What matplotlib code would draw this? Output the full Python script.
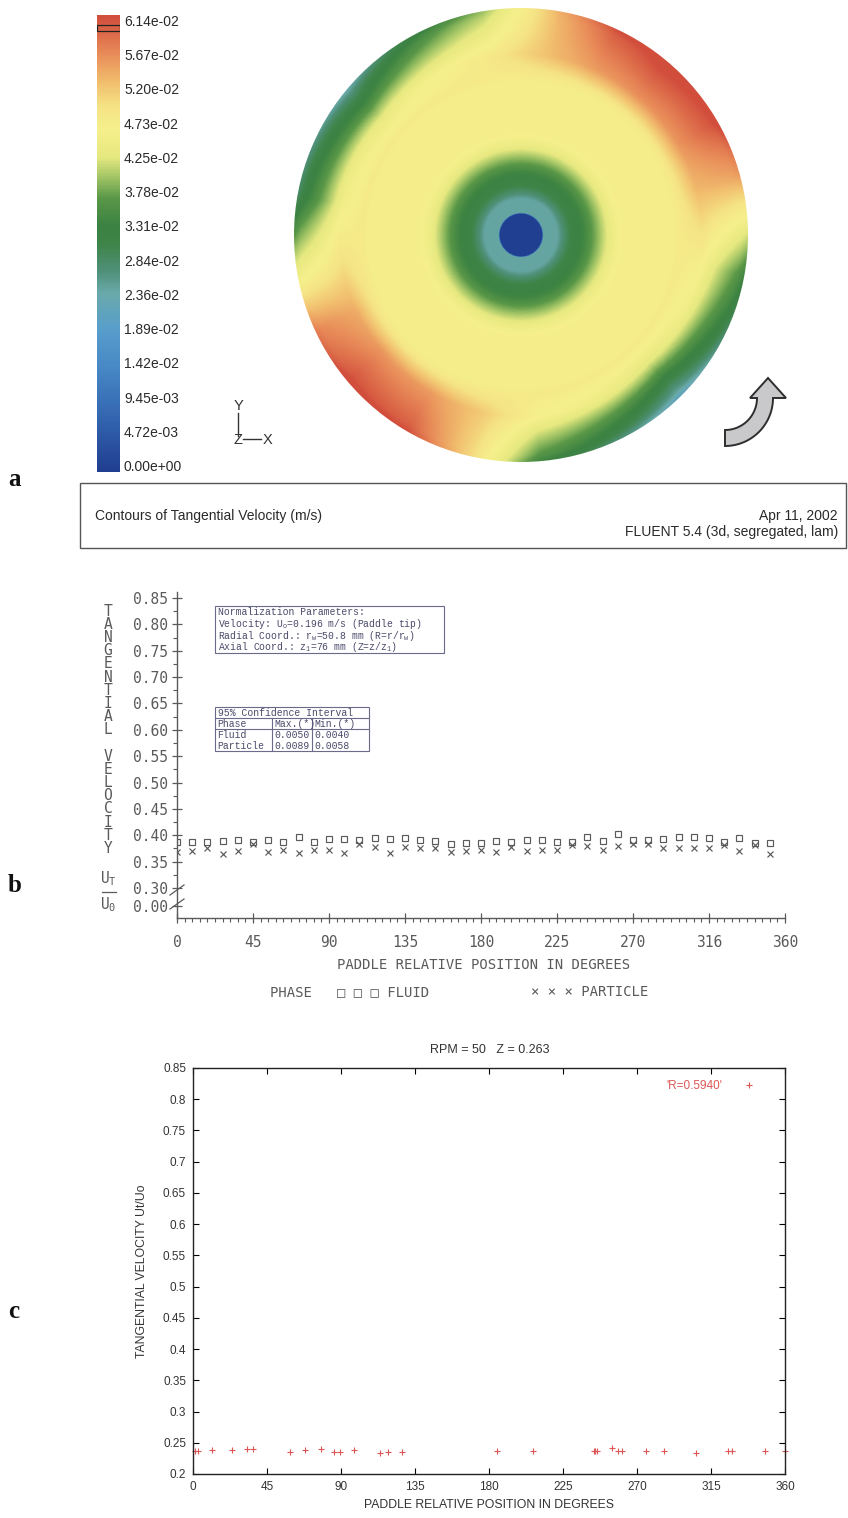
import numpy as np
import matplotlib
matplotlib.use("Agg")
import matplotlib.pyplot as plt
from matplotlib.colors import LinearSegmentedColormap
from matplotlib.patches import Rectangle, Circle, Polygon
from matplotlib.ticker import MultipleLocator, FixedLocator

plt.rcParams['mathtext.default'] = 'regular'

W, H, DPI = 848, 1518, 100

# ---------------- panel a: contour of tangential velocity ----------------
cbar_levels = [6.14e-02, 5.67e-02, 5.20e-02, 4.73e-02, 4.25e-02, 3.78e-02, 3.31e-02,
               2.84e-02, 2.36e-02, 1.89e-02, 1.42e-02, 9.45e-03, 4.72e-03, 0.00e+00]
vmax = 6.14e-02
cmap_pos = [0.00, 0.077, 0.154, 0.23, 0.31, 0.39, 0.44, 0.50, 0.54, 0.60, 0.65, 0.69,
            0.75, 0.80, 0.85, 0.92, 1.00]
cmap_col = ['#213f90', '#2d58a6', '#3a72b8', '#4889c6', '#589ecc', '#6aaaac', '#4f9078',
            '#3f8448', '#3c8242', '#5a9848', '#a8c868', '#e6e880', '#f6f08c', '#f5e486',
            '#f2c270', '#e88a58', '#d24e3c']
# radial profile of the disc (r normalised by tank radius)
core_r = [0.0, 0.094, 0.098, 0.16, 0.18, 0.22, 0.28, 0.34, 0.40, 0.46, 0.68, 0.80, 0.88, 1.0]
core_v = [0.0, 0.0, 0.0245, 0.0245, 0.027, 0.031, 0.034, 0.039, 0.044, 0.047, 0.047, 0.0505,
          0.049, 0.047]
# wall region: angular variation near the rim
rim_r = [0.0, 0.70, 0.88, 0.97, 1.0]
rim_w = [0.0, 0.0, 0.75, 1.1, 1.3]
rim_deg = [0, 15, 30, 50, 65, 80, 100, 140, 170, 190, 205, 220, 240, 258, 275, 315, 350, 360]
rim_amp = [-0.004, 0.006, 0.012, 0.013, 0.011, 0.005, -0.006, -0.018, -0.014, -0.002, 0.008,
           0.012, 0.011, 0.002, -0.010, -0.020, -0.010, -0.004]

# ---------------- panel b: measured (LDV) fluid / particle ----------------
b_angle = [0, 9, 18, 27, 36, 45, 54, 63, 72, 81, 90, 99, 108, 117, 126, 135, 144, 153, 162, 171,
           180, 189, 198, 207, 216, 225, 234, 243, 252, 261, 270, 279, 288, 297, 306, 315, 324,
           333, 342, 351]
b_fluid = [0.387, 0.387, 0.388, 0.390, 0.391, 0.387, 0.391, 0.388, 0.396, 0.387,
           0.392, 0.392, 0.391, 0.394, 0.393, 0.394, 0.391, 0.389, 0.383, 0.385,
           0.385, 0.389, 0.387, 0.391, 0.391, 0.388, 0.388, 0.396, 0.389, 0.402,
           0.391, 0.391, 0.393, 0.396, 0.397, 0.394, 0.388, 0.394, 0.385, 0.385]
b_particle = [0.369, 0.370, 0.375, 0.364, 0.370, 0.383, 0.369, 0.373, 0.367, 0.372,
              0.373, 0.367, 0.383, 0.378, 0.367, 0.378, 0.375, 0.375, 0.369, 0.370,
              0.372, 0.369, 0.378, 0.370, 0.372, 0.372, 0.381, 0.380, 0.373, 0.380,
              0.383, 0.383, 0.376, 0.376, 0.376, 0.376, 0.381, 0.371, 0.381, 0.365]
b_yticks = [0.30, 0.35, 0.40, 0.45, 0.50, 0.55, 0.60, 0.65, 0.70, 0.75, 0.80, 0.85]
b_xticks = [0, 45, 90, 135, 180, 225, 270, 315, 360]
b_xlabels = ['0', '45', '90', '135', '180', '225', '270', '316', '360']
norm_lines = ['Normalization Parameters:',
              'Velocity: U$_o$=0.196 m/s (Paddle tip)',
              'Radial Coord.: r$_w$=50.8 mm (R=r/r$_w$)',
              'Axial Coord.: z$_1$=76 mm (Z=z/z$_1$)']
ci_title = '95% Confidence Interval'
ci_rows = [['Phase', 'Max.(*)', 'Min.(*)'],
           ['Fluid', '0.0050', '0.0040'],
           ['Particle', '0.0089', '0.0058']]

# ---------------- panel c: CFD prediction ----------------
c_angle = [1.5, 3.0, 11.8, 23.6, 32.6, 36.6, 59.2, 68.4, 77.9, 85.6, 89.1, 98.2, 113.5,
           118.6, 126.8, 184.9, 207.0, 243.8, 244.6, 245.4, 254.7, 258.5, 261.0, 275.7,
           286.5, 305.6, 325.5, 328.0, 348.1, 360.0]
c_vel = [0.2370, 0.2365, 0.2378, 0.2389, 0.2394, 0.2394, 0.2360, 0.2378, 0.2394, 0.2350,
         0.2360, 0.2378, 0.2339, 0.2350, 0.2350, 0.2376, 0.2376, 0.2362, 0.2370, 0.2366,
         0.2409, 0.2376, 0.2374, 0.2366, 0.2376, 0.2339, 0.2376, 0.2374, 0.2366, 0.2376]
c_yticks = [0.2, 0.25, 0.3, 0.35, 0.4, 0.45, 0.5, 0.55, 0.6, 0.65, 0.7, 0.75, 0.8, 0.85]
c_xticks = [0, 45, 90, 135, 180, 225, 270, 315, 360]

# -------------------------------------------------------------------------
fig = plt.figure(figsize=(W / DPI, H / DPI), dpi=DPI)
fig.patch.set_facecolor('white')


def px_axes(x0, y0, x1, y1):
    return fig.add_axes([x0 / W, 1 - y1 / H, (x1 - x0) / W, (y1 - y0) / H])


SANS = 'Liberation Sans'
MONO = ['DejaVu Sans Mono', 'DejaVu Sans']
PLOT_GREY = '#5a5a5a'

cmap = LinearSegmentedColormap.from_list('fluent', list(zip(cmap_pos, cmap_col)))

# colour bar
ax_cb = px_axes(97, 15, 120, 472)
grad = np.linspace(0, vmax, 400).reshape(-1, 1)
ax_cb.imshow(grad, cmap=cmap, vmin=0, vmax=vmax, origin='lower', aspect='auto',
             extent=[0, 1, 0, vmax])
ax_cb.add_patch(Rectangle((0.0, 0.0593), 1.0, 0.0007, fill=False, ec='#222222', lw=0.9))
ax_cb.set_xlim(0, 1)
ax_cb.set_ylim(0, vmax)
ax_cb.set_axis_off()

# disc
ax_d = px_axes(294, 8, 748, 462)
g = np.linspace(-1, 1, 600)
X, Y = np.meshgrid(g, g)
R = np.hypot(X, Y)
PHI = np.degrees(np.arctan2(Y, X)) % 360
V = (np.interp(R, core_r, core_v)
     + np.interp(R, rim_r, rim_w) * np.interp(PHI, rim_deg, rim_amp))
V = np.clip(V, 0, vmax)
im = ax_d.imshow(V, cmap=cmap, vmin=0, vmax=vmax, origin='lower', extent=[-1, 1, -1, 1],
                 interpolation='bilinear')
im.set_clip_path(Circle((0, 0), 1.0, transform=ax_d.transData))
ax_d.set_xlim(-1, 1)
ax_d.set_ylim(-1, 1)
ax_d.set_axis_off()

# ---------------- panel b axes ----------------
B_TOP_PIX, B_085, B_030, B_AXIS, B_ZERO_PIX = 592, 598, 888, 918, 906
k_b = (B_030 - B_085) / 0.55
b_ymin = 0.30 - (B_AXIS - B_030) / k_b
b_ymax = 0.85 + (B_085 - B_TOP_PIX) / k_b
b_zero = 0.30 - (B_ZERO_PIX - B_030) / k_b

ax_b = px_axes(177, B_TOP_PIX, 785, B_AXIS)
ax_b.set_xlim(0, 360)
ax_b.set_ylim(b_ymin, b_ymax)
ax_b.plot(b_angle, b_fluid, ls='none', marker='s', ms=4.8, mfc='none', mec=PLOT_GREY, mew=0.85)
ax_b.plot(b_angle, b_particle, ls='none', marker='x', ms=5.0, mec=PLOT_GREY, mew=0.85)
for s in ['top', 'right']:
    ax_b.spines[s].set_visible(False)
for s in ['left', 'bottom']:
    ax_b.spines[s].set_color(PLOT_GREY)
    ax_b.spines[s].set_linewidth(1.0)
ax_b.yaxis.set_major_locator(FixedLocator([b_zero] + b_yticks))
ax_b.set_yticklabels(['0.00'] + [f'{v:.2f}' for v in b_yticks])
ax_b.yaxis.set_minor_locator(FixedLocator(list(np.arange(0.325, 0.85, 0.05))))
ax_b.xaxis.set_major_locator(FixedLocator(b_xticks))
ax_b.set_xticklabels(b_xlabels)
ax_b.xaxis.set_minor_locator(MultipleLocator(4.5))
ax_b.tick_params(axis='both', which='major', direction='inout', length=7, width=0.9,
                 color=PLOT_GREY, labelcolor='#5a5a5a', labelsize=10.5)
ax_b.tick_params(axis='both', which='minor', direction='out', length=3, width=0.8,
                 color=PLOT_GREY)
ax_b.tick_params(axis='y', pad=3)
ax_b.tick_params(axis='x', pad=9)
for lab in ax_b.get_xticklabels() + ax_b.get_yticklabels():
    lab.set_family(MONO)
ax_b.patch.set_alpha(0)

# information boxes of panel b (in data coordinates)
box_font = dict(family='Liberation Mono', fontsize=7.0, color='#4a4a6a')
box_ec = '#6a6a8a'
nb_left, nb_right, nb_top, nb_bot = 22.5, 158.0, 0.835, 0.745
nb_step = (nb_top - nb_bot) / 4
ax_b.add_patch(Rectangle((nb_left, nb_bot), nb_right - nb_left, nb_top - nb_bot, fill=False,
                         ec=box_ec, lw=0.8, clip_on=False))
for i, line in enumerate(norm_lines):
    ax_b.text(nb_left + 1.8, nb_top - (i + 0.5) * nb_step, line, va='center', ha='left',
              **box_font)

ci_left, ci_right, ci_top, ci_bot = 22.5, 113.5, 0.643, 0.559
col_x = [ci_left, 56.5, 80.0, ci_right]
row_h = (ci_top - ci_bot) / 4
ax_b.add_patch(Rectangle((ci_left, ci_bot), ci_right - ci_left, ci_top - ci_bot, fill=False,
                         ec=box_ec, lw=0.8, clip_on=False))
ax_b.plot([ci_left, ci_right], [ci_top - row_h] * 2, color=box_ec, lw=0.8)
ax_b.plot([ci_left, ci_right], [ci_top - 2 * row_h] * 2, color=box_ec, lw=0.8)
for cx in col_x[1:3]:
    ax_b.plot([cx, cx], [ci_bot, ci_top - row_h], color=box_ec, lw=0.8)
ax_b.text(ci_left + 1.5, ci_top - 0.5 * row_h, ci_title, va='center', ha='left', **box_font)
for r, row in enumerate(ci_rows):
    yy = ci_top - (r + 1.5) * row_h
    for c, cell in enumerate(row):
        ax_b.text(col_x[c] + 1.2, yy, cell, va='center', ha='left', **box_font)

# ---------------- panel c axes ----------------
ax_c = px_axes(193, 1068, 785, 1474)
ax_c.plot(c_angle, c_vel, ls='none', marker='+', ms=4.5, mew=0.8, color='#dd5555',
          label="'R=0.5940'", clip_on=False)
ax_c.set_xlim(0, 360)
ax_c.set_ylim(0.2, 0.85)
ax_c.xaxis.set_major_locator(FixedLocator(c_xticks))
ax_c.yaxis.set_major_locator(FixedLocator(c_yticks))
ax_c.set_yticklabels([f'{v:g}' for v in c_yticks])
ax_c.set_xticklabels([str(v) for v in c_xticks])
ax_c.tick_params(which='major', direction='in', length=4.5, width=0.8, top=True, right=True,
                 labelsize=8.5, labelcolor='#333333')
ax_c.tick_params(axis='y', pad=5)
ax_c.tick_params(axis='x', pad=5)
for lab in ax_c.get_xticklabels() + ax_c.get_yticklabels():
    lab.set_family(SANS)
for s in ax_c.spines.values():
    s.set_linewidth(1.0)
    s.set_color('#222222')
leg = ax_c.legend(loc='upper right', bbox_to_anchor=(0.975, 0.99), frameon=False,
                  markerfirst=False, handlelength=2.2, handletextpad=1.2, borderpad=0.2,
                  prop={'family': SANS, 'size': 8.5}, labelcolor='#dd5555')

# ---------------- page-level annotations ----------------
ov = fig.add_axes([0, 0, 1, 1])
ov.set_xlim(0, W)
ov.set_ylim(H, 0)
ov.set_axis_off()
ov.patch.set_alpha(0)

n_lv = len(cbar_levels)
for i, lv in enumerate(cbar_levels):
    yy = 22 + i * (467 - 22) / (n_lv - 1)
    ov.text(124, yy, f'{lv:.2e}', ha='left', va='center', family=SANS, fontsize=10,
            color='#2a2a2a')

# coordinate triad
ov.plot([238, 238], [413, 436], color='#333333', lw=1.0)
ov.plot([243, 261], [439, 439], color='#333333', lw=1.0)
ov.text(238, 406, 'Y', ha='center', va='center', family=SANS, fontsize=10.5, color='#333333')
ov.text(238, 440, 'Z', ha='center', va='center', family=SANS, fontsize=10.5, color='#333333')
ov.text(268, 440, 'X', ha='center', va='center', family=SANS, fontsize=10.5, color='#333333')

# rotation arrow
acx, acy, r_in, r_out = 725, 398, 32, 48
t_out = np.radians(np.linspace(90, 0, 40))
t_in = np.radians(np.linspace(0, 90, 40))
verts = [(acx + r_out * np.cos(t), acy + r_out * np.sin(t)) for t in t_out]
verts += [(786, acy), (768, 378), (750, acy)]
verts += [(acx + r_in * np.cos(t), acy + r_in * np.sin(t)) for t in t_in]
ov.add_patch(Polygon(verts, closed=True, fc='#c9c9cb', ec='#2e2e2e', lw=1.4, joinstyle='miter'))

# caption box of panel a
ov.add_patch(Rectangle((80, 483), 766, 65, fill=False, ec='#555555', lw=1.0))
ov.text(95, 516, 'Contours of Tangential Velocity (m/s)', ha='left', va='center', family=SANS,
        fontsize=10, color='#2a2a2a')
ov.text(838, 516, 'Apr 11, 2002', ha='right', va='center', family=SANS, fontsize=10,
        color='#2a2a2a')
ov.text(838, 532, 'FLUENT 5.4 (3d, segregated, lam)', ha='right', va='center', family=SANS,
        fontsize=10, color='#2a2a2a')

# panel b: stacked axis title and legend line


def b_pix(v):
    return B_085 + (0.85 - v) * k_b


ylab_letters = ['T', 'A', 'N', 'G', 'E', 'N', 'T', 'I', 'A', 'L', '',
                'V', 'E', 'L', 'O', 'C', 'I', 'T', 'Y']
for i, ch in enumerate(ylab_letters):
    if ch:
        ov.text(108, b_pix(0.825 - 0.025 * i), ch, ha='center', va='center', family=MONO,
                fontsize=10.5, color='#5a5a5a')
ov.text(108, b_pix(0.318), 'U$_T$', ha='center', va='center', family=MONO, fontsize=10.5,
        color='#5a5a5a')
ov.plot([102, 116], [b_pix(0.292)] * 2, color='#5a5a5a', lw=0.9)
ov.text(108, b_pix(0.268), 'U$_0$', ha='center', va='center', family=MONO, fontsize=10.5,
        color='#5a5a5a')
# axis break marks
for yb in (890, 904):
    ov.plot([170, 184], [yb + 5, yb - 5], color=PLOT_GREY, lw=0.9)

ov.text(484, 965, 'PADDLE RELATIVE POSITION IN DEGREES', ha='center', va='center', family=MONO,
        fontsize=10, color='#5a5a5a')
ov.text(270, 992, 'PHASE   \u25a1 \u25a1 \u25a1 FLUID', ha='left', va='center', family=MONO,
        fontsize=10, color='#5a5a5a')
ov.text(531, 992, '\u00d7 \u00d7 \u00d7 PARTICLE', ha='left', va='center', family=MONO,
        fontsize=10, color='#5a5a5a')

# panel c titles
ov.text(490, 1050, 'RPM = 50   Z = 0.263', ha='center', va='center', family=SANS, fontsize=9,
        color='#333333')
ov.text(489, 1505, 'PADDLE RELATIVE POSITION IN DEGREES', ha='center', va='center', family=SANS,
        fontsize=8.8, color='#333333')
ov.text(142, 1271, 'TANGENTIAL VELOCITY Ut/Uo', ha='center', va='center', rotation=90,
        family=SANS, fontsize=8.8, color='#333333')

# panel letters
for letter, yy in (('a', 480), ('b', 886), ('c', 1311)):
    ov.text(8, yy, letter, ha='left', va='center', family='Liberation Serif', fontweight='bold',
            fontsize=18, color='#111111')

fig.savefig('out.png', dpi=DPI, facecolor='white')
